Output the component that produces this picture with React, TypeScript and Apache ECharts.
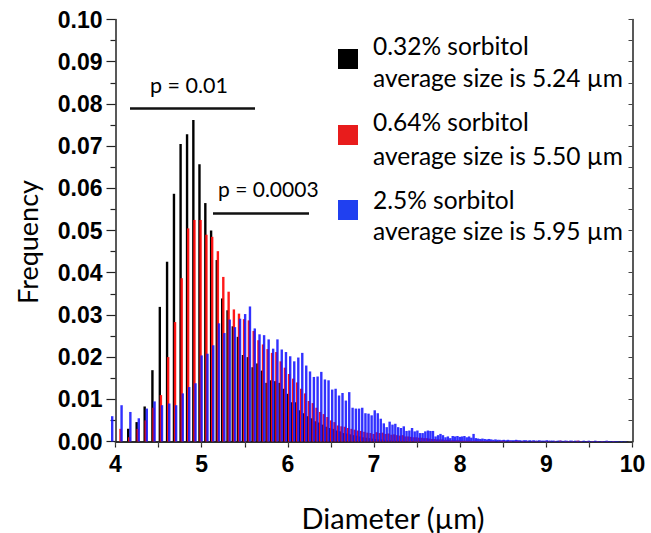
import React, { useEffect, useRef } from "react";
import * as echarts from "echarts";

// Bin centres (µm)
const diameter = [
  3.949, 4.058, 4.16, 4.258, 4.351, 4.441, 4.527, 4.611, 4.691, 4.768,
  4.843, 4.916, 4.987, 5.055, 5.122, 5.188, 5.251, 5.313, 5.374, 5.433,
  5.492, 5.548, 5.604, 5.659, 5.712, 5.765, 5.817, 5.867, 5.917, 5.966,
  6.015, 6.062, 6.109, 6.155, 6.201, 6.245, 6.29, 6.333, 6.376, 6.418,
  6.46, 6.502, 6.542, 6.582, 6.622, 6.661, 6.7, 6.739, 6.777, 6.814,
  6.851, 6.888, 6.924, 6.96, 6.996, 7.031, 7.066, 7.101, 7.135, 7.169,
  7.202, 7.235, 7.268, 7.301, 7.333, 7.365, 7.398, 7.429, 7.46, 7.491,
  7.522, 7.552, 7.583, 7.613, 7.642, 7.672, 7.702, 7.731, 7.759, 7.788,
  7.817, 7.845, 7.873, 7.901, 7.928, 7.956, 7.983, 8.01, 8.037, 8.064,
  8.091, 8.117, 8.143, 8.169, 8.195, 8.221, 8.246, 8.272, 8.297, 8.322,
  8.347, 8.372, 8.397, 8.421, 8.445, 8.47, 8.494, 8.518, 8.542, 8.565,
  8.589, 8.612, 8.636, 8.659, 8.682, 8.705, 8.728, 8.75, 8.773, 8.795,
  8.818, 8.84, 8.862, 8.884, 8.906, 8.928, 8.949, 8.971, 8.993, 9.014,
  9.035, 9.056, 9.077, 9.099, 9.119, 9.14, 9.161, 9.181, 9.202, 9.222,
  9.243, 9.263, 9.283, 9.303, 9.323, 9.343, 9.363, 9.383, 9.402, 9.422,
  9.441, 9.461, 9.48, 9.499, 9.518, 9.537, 9.556, 9.575, 9.594, 9.613,
  9.632, 9.65, 9.669, 9.688, 9.706, 9.724, 9.743, 9.761, 9.779, 9.797,
  9.815, 9.833, 9.851, 9.869, 9.887, 9.904, 9.922, 9.939, 9.957, 9.975,
  9.992,
];

// 0.32% sorbitol
const freq032 = [
  0, 0, 0.003, 0.0046, 0.0083, 0.0169, 0.0319, 0.0426, 0.0587, 0.0705,
  0.0728, 0.0762, 0.0657, 0.0565, 0.05, 0.043, 0.0339, 0.0311, 0.0273, 0.0248,
  0.0205, 0.02, 0.0176, 0.0185, 0.0168, 0.0139, 0.0145, 0.0143, 0.0139, 0.0125,
  0.0113, 0.0093, 0.0093, 0.0074, 0.0067, 0.006, 0.0055, 0.0048, 0.0045, 0.004,
  0.0035, 0.0032, 0.003, 0.0026, 0.0024, 0.002, 0.0019, 0.0017, 0.0015, 0.0014,
  0.0012, 0.001, 0.0009, 0.0008, 0.0007, 0.0006, 0.0005, 0.0005, 0.0004, 0.0003,
  0.0003, 0.0002, 0.0002, 0.0002, 0.0001, 0.0001, 0.0001, 0, 0.0001, 0,
  0, 0.0001, 0, 0, 0, 0, 0, 0, 0, 0,
  0, 0, 0, 0, 0, 0, 0, 0, 0, 0,
  0, 0, 0, 0, 0, 0, 0, 0, 0, 0,
  0, 0, 0, 0, 0, 0, 0, 0, 0, 0,
  0, 0, 0, 0, 0, 0, 0, 0, 0, 0,
  0, 0, 0, 0, 0, 0, 0, 0, 0, 0,
  0, 0, 0, 0, 0, 0, 0, 0, 0, 0,
  0, 0, 0, 0, 0, 0, 0, 0, 0, 0,
  0, 0, 0, 0, 0, 0, 0, 0, 0, 0,
  0, 0, 0, 0, 0, 0, 0, 0, 0, 0,
  0, 0, 0, 0, 0, 0, 0, 0, 0, 0,
  0,
];

// 0.64% sorbitol
const freq064 = [
  0, 0.003, 0.001, 0.003, 0.005, 0.008, 0.011, 0.02, 0.0283, 0.0387,
  0.0505, 0.0525, 0.0525, 0.049, 0.0485, 0.0451, 0.039, 0.0355, 0.0313, 0.0303,
  0.029, 0.0287, 0.0262, 0.024, 0.023, 0.0219, 0.021, 0.0212, 0.019, 0.0175,
  0.016, 0.0149, 0.014, 0.0125, 0.0114, 0.0096, 0.0091, 0.008, 0.007, 0.0065,
  0.0058, 0.005, 0.0046, 0.0038, 0.0036, 0.0035, 0.0032, 0.003, 0.0028, 0.0026,
  0.0025, 0.0023, 0.0021, 0.002, 0.0018, 0.0022, 0.002, 0.0021, 0.0018, 0.0019,
  0.0016, 0.0017, 0.0015, 0.0014, 0.0015, 0.0012, 0.0012, 0.0011, 0.001, 0.001,
  0.0009, 0.0009, 0.0008, 0.0008, 0.0007, 0.0006, 0.0006, 0.0005, 0.0005, 0.0005,
  0.0004, 0.0004, 0.0004, 0.0003, 0.0003, 0.0003, 0.0003, 0.0002, 0.0002, 0.0002,
  0.0002, 0.0002, 0.0001, 0.0002, 0.0001, 0.0001, 0.0002, 0.0001, 0.0001, 0.0001,
  0.0001, 0.0001, 0.0001, 0, 0.0001, 0.0001, 0.0002, 0.0001, 0, 0.0001,
  0.0001, 0, 0.0001, 0.0002, 0.0001, 0, 0.0001, 0, 0.0001, 0,
  0, 0.0001, 0, 0.0001, 0, 0.0001, 0, 0, 0.0001, 0,
  0.0001, 0, 0, 0.0001, 0, 0, 0.0002, 0, 0, 0.0001,
  0, 0.0001, 0, 0.0001, 0, 0, 0.0002, 0, 0.0001, 0,
  0, 0, 0.0001, 0, 0, 0.0001, 0, 0, 0.0001, 0,
  0, 0.0001, 0, 0, 0.0001, 0, 0, 0, 0.0001, 0,
  0, 0, 0, 0, 0, 0, 0, 0, 0, 0,
  0,
];

// 2.5% sorbitol
const freq25 = [
  0.006, 0.0086, 0.007, 0.0055, 0.0078, 0.0095, 0.0086, 0.009, 0.0086, 0.0114,
  0.0129, 0.0138, 0.0204, 0.0208, 0.0228, 0.028, 0.0257, 0.0289, 0.0271, 0.0291,
  0.0302, 0.032, 0.0268, 0.0254, 0.0252, 0.0242, 0.022, 0.0242, 0.0218, 0.0212,
  0.0202, 0.019, 0.0199, 0.021, 0.018, 0.0166, 0.0153, 0.0154, 0.0165, 0.0147,
  0.0145, 0.0123, 0.0125, 0.0109, 0.0115, 0.0097, 0.0117, 0.008, 0.0078, 0.0078,
  0.008, 0.0067, 0.0066, 0.0062, 0.0074, 0.0067, 0.0054, 0.0043, 0.0034, 0.0047,
  0.004, 0.0042, 0.0034, 0.0032, 0.0036, 0.0025, 0.0026, 0.0032, 0.0024, 0.0026,
  0.002, 0.002, 0.0024, 0.0026, 0.0025, 0.0025, 0.0012, 0.0015, 0.0018, 0.0015,
  0.001, 0.0012, 0.0008, 0.0013, 0.0012, 0.0013, 0.0011, 0.0012, 0.0013, 0.001,
  0.0012, 0.0009, 0.0018, 0.0008, 0.0007, 0.0006, 0.0007, 0.0006, 0.0005, 0.0006,
  0.0005, 0.0004, 0.0005, 0.0004, 0.0004, 0.0003, 0.0004, 0.0003, 0.0004, 0.0003,
  0.0003, 0.0003, 0.0004, 0.0003, 0.0003, 0.0002, 0.0003, 0.0003, 0.0002, 0.0003,
  0.0002, 0.0003, 0.0002, 0.0002, 0.0003, 0.0002, 0.0002, 0.0002, 0.0003, 0.0002,
  0.0002, 0.0002, 0.0002, 0.0001, 0.0002, 0.0002, 0.0002, 0.0001, 0.0002, 0.0002,
  0.0001, 0.0002, 0.0002, 0.0001, 0.0002, 0.0001, 0.0002, 0.0001, 0.0001, 0.0002,
  0.0001, 0.0001, 0.0002, 0.0001, 0.0001, 0.0001, 0.0002, 0.0001, 0.0001, 0.0001,
  0.0001, 0.0001, 0.0001, 0.0002, 0.0001, 0.0001, 0.0001, 0.0001, 0.0001, 0.0001,
  0.0001, 0, 0.0001, 0.0001, 0, 0.0001, 0, 0, 0, 0,
  0,
];

const legendLines = [
  ["0.32% sorbitol", "average size is 5.24 µm"],
  ["0.64% sorbitol", "average size is 5.50 µm"],
  ["2.5% sorbitol", "average size is 5.95 µm"],
];
const pLabels = ["p = 0.01", "p = 0.0003"];
const xTitle = "Diameter (µm)";
const yTitle = "Frequency";

const TEXT_FONT = "Lato, 'Open Sans', sans-serif";
const TICK_FONT = "'Liberation Sans', Arial, sans-serif";

export default function App() {
  const ref = useRef<HTMLDivElement>(null);
  useEffect(() => {
    if (!ref.current) return;
    const chart = echarts.init(ref.current, null, { renderer: "svg" });
    const pair = (vals: number[]) => diameter.map((d, i) => [d, vals[i] ?? 0]);
    const axisLine = { show: true, lineStyle: { color: "#222", width: 1.5 } };
    const mkBar = (name: string, vals: number[], color: string, opacity: number) => ({
      name,
      type: "bar",
      xAxisIndex: 0,
      yAxisIndex: 0,
      data: pair(vals),
      barWidth: 2.4,
      barGap: "-55%",
      clip: false,
      itemStyle: { color, opacity },
      emphasis: { disabled: true },
    });
    const legendColors = ["#000000", "#e81c1c", "#2040f0"];
    const legendTops = [49, 125, 200];
    const legendTextY = [
      [45, 77],
      [121, 155],
      [199, 230],
    ];
    const graphic: any[] = [];
    legendLines.forEach((lines, i) => {
      graphic.push({
        type: "rect",
        shape: { x: 338, y: legendTops[i], width: 20, height: 20 },
        style: { fill: legendColors[i] },
      });
      lines.forEach((t, j) => {
        graphic.push({
          type: "text",
          x: 373,
          y: legendTextY[i][j],
          style: {
            text: t,
            font: `24.5px ${TEXT_FONT}`,
            fill: "#000",
            textVerticalAlign: "middle",
          },
        });
      });
    });
    graphic.push(
      { type: "line", shape: { x1: 130, y1: 108.5, x2: 255, y2: 108.5 }, style: { stroke: "#111", lineWidth: 2.5 } },
      { type: "line", shape: { x1: 213, y1: 213.5, x2: 309, y2: 213.5 }, style: { stroke: "#111", lineWidth: 2.5 } },
      {
        type: "text",
        x: 150,
        y: 85,
        style: { text: pLabels[0], font: `21.5px ${TEXT_FONT}`, fill: "#000", textVerticalAlign: "middle" },
      },
      {
        type: "text",
        x: 218,
        y: 188,
        style: { text: pLabels[1], font: `21px ${TEXT_FONT}`, fill: "#000", textVerticalAlign: "middle" },
      },
      {
        type: "text",
        x: 393,
        y: 517,
        style: {
          text: xTitle,
          font: `29px ${TEXT_FONT}`,
          fill: "#000",
          textAlign: "center",
          textVerticalAlign: "middle",
        },
      },
      {
        type: "text",
        x: 27,
        y: 242,
        rotation: Math.PI / 2,
        style: {
          text: yTitle,
          font: `27px ${TEXT_FONT}`,
          fill: "#000",
          textAlign: "center",
          textVerticalAlign: "middle",
        },
      }
    );

    chart.setOption({
      animation: false,
      backgroundColor: "#fff",
      grid: { left: 115.5, top: 19.5, width: 517, height: 422 },
      xAxis: [
        {
          type: "value",
          position: "bottom",
          min: 4,
          max: 10,
          interval: 1,
          axisLine,
          axisTick: { show: true, inside: false, length: 6, lineStyle: { color: "#222", width: 1.2 } },
          minorTick: { show: true, splitNumber: 2, length: 6, lineStyle: { color: "#222", width: 1.2 } },
          splitLine: { show: false },
          axisLabel: { fontFamily: TICK_FONT, fontWeight: "bold", fontSize: 23, color: "#000", margin: 11 },
        },
        {
          type: "value",
          position: "top",
          min: 4,
          max: 10,
          interval: 0.5,
          axisLine,
          axisTick: { show: true, inside: true, length: 4, lineStyle: { color: "#444" } },
          axisLabel: { show: false },
          splitLine: { show: false },
        },
      ],
      yAxis: [
        {
          type: "value",
          position: "left",
          min: 0,
          max: 0.1,
          interval: 0.01,
          axisLine,
          axisTick: { show: true, inside: false, length: 9, lineStyle: { color: "#222", width: 1.2 } },
          minorTick: { show: true, splitNumber: 2, length: 5, lineStyle: { color: "#222", width: 1.2 } },
          splitLine: { show: false },
          axisLabel: {
            fontFamily: TICK_FONT,
            fontWeight: "bold",
            fontSize: 23,
            color: "#000",
            margin: 13,
            formatter: (v: number) => v.toFixed(2),
          },
        },
        {
          type: "value",
          position: "right",
          min: 0,
          max: 0.1,
          interval: 0.005,
          axisLine,
          axisTick: { show: true, inside: true, length: 4, lineStyle: { color: "#444" } },
          axisLabel: { show: false },
          splitLine: { show: false },
        },
      ],
      series: [
        mkBar("0.32% sorbitol", freq032, "#000000", 1),
        mkBar("0.64% sorbitol", freq064, "#ff0d0d", 0.95),
        mkBar("2.5% sorbitol", freq25, "#1414ff", 0.88),
      ],
      graphic,
    });
    return () => chart.dispose();
  }, []);
  return (
    <div
      ref={ref}
      style={{ position: "fixed", left: 0, top: 0, width: 651, height: 533, background: "#fff" }}
    />
  );
}
